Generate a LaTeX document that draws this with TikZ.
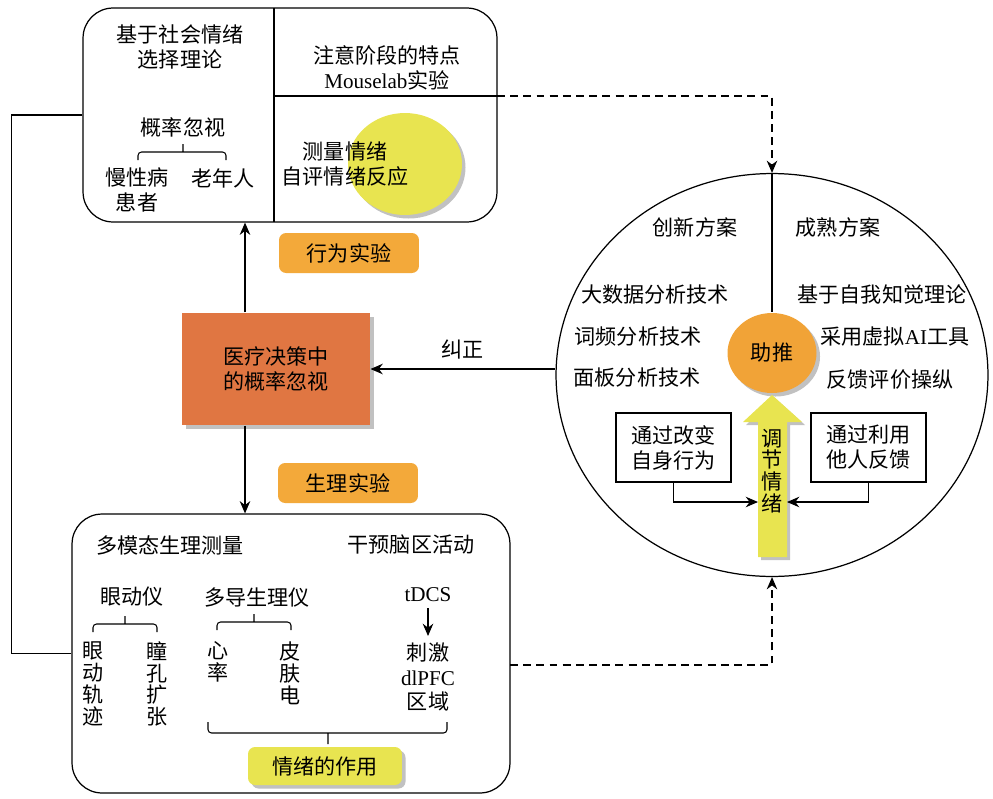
\documentclass[tikz,border=0pt]{standalone}
\usepackage{fontspec}
\setmainfont{Noto Sans CJK SC}
\newfontfamily\latn{Liberation Serif}
\usetikzlibrary{arrows.meta,positioning,shapes.geometric,shadows,calc}
\definecolor{badgeorange}{RGB}{243,169,58}
\definecolor{coreorange}{RGB}{224,118,66}
\definecolor{nudgeorange}{RGB}{241,163,55}
\definecolor{emoyellow}{RGB}{232,228,80}
\tikzset{
  panel/.style={draw,rounded corners=0.6cm,line width=0.7pt},
  expbadge/.style={rounded corners=4pt,fill=#1,minimum width=2.8cm,minimum height=0.8cm},
  expbadge/.default=badgeorange,
  plainbox/.style={draw,align=center,minimum width=2.3cm,minimum height=1.38cm},
  vtext/.style={align=center,font=\fontsize{12}{12.4}\selectfont},
  brk/.style={rounded corners=2pt},
  arr/.style={-{Stealth[length=7pt,width=6pt]}},
  linkdash/.style={dash pattern=on 4.5pt off 3pt},
  softshadow/.style={drop shadow={shadow xshift=2pt,shadow yshift=-2pt,opacity=0.35,fill=black!70}}
}
\newcommand{\brkt}[5]{\draw[brk] (#1,#4+#5) -- (#1,#4) -- (#2,#4) -- (#2,#4+#5) (#3,#4) -- (#3,#4-#5);}

\begin{document}
\begin{tikzpicture}[x=0.02cm,y=-0.02cm,font=\fontsize{12}{14.2}\selectfont,line width=0.6pt]
\useasboundingbox (0,0) rectangle (993,798);

% upper panel: behavioural experiment
\node[panel,minimum width=8.28cm,minimum height=4.28cm] (top) at (290,115) {};
\draw (274,8) -- (274,222) (274,96) -- (497,96);
\node[ellipse,fill=emoyellow,softshadow,minimum width=2.28cm,minimum height=2.04cm] (glow) at (405,164) {};
\node[align=center] (theory) at (180,47) {基于社会情绪\\选择理论};
\node (neglect) at (183,127) {概率忽视};
\node[align=center] (chronic) at (137,190) {慢性病\\患者};
\node (elderly) at (223,178) {老年人};
\brkt{138}{226}{183}{152}{8}
\node[align=center] (attention) at (387,68) {注意阶段的特点\\{\latn Mouselab}实验};
\node[align=center] (selfrate) at (345,164) {测量情绪\\自评情绪反应};

% centre
\node[fill=coreorange,softshadow,minimum width=3.76cm,minimum height=2.24cm,align=center] (core) at (276,369) {医疗决策中\\的概率忽视};
\node[expbadge] (behav) at (349,253) {行为实验};
\node[expbadge] (physio) at (348,483) {生理实验};
\coordinate (axis) at (245,0);

% lower panel: physiological experiment
\node[panel,minimum width=8.76cm,minimum height=5.58cm] (bottom) at (291,653.5) {};
\node (multi) at (170,545) {多模态生理测量};
\node (brain) at (411,545) {干预脑区活动};
\node (eye) at (132,597) {眼动仪};
\node (poly) at (257,597) {多导生理仪};
\node (tdcs) at (428,595) {\latn tDCS};
\node[vtext] (gaze) at (93,684) {眼\\动\\轨\\迹};
\node[vtext] (pupil) at (157,684) {瞳\\孔\\扩\\张};
\node[vtext] (heart) at (218,662) {心\\率};
\node[vtext] (skin) at (290,673) {皮\\肤\\电};
\node[align=center] (stim) at (428,677) {刺激\\{\latn dlPFC}\\区域};
\brkt{93}{157}{125}{624}{8}
\brkt{217}{291}{254}{622}{8}
\brkt{208}{447}{328}{733}{-11}
\node[expbadge=emoyellow,softshadow,minimum width=3.08cm,minimum height=0.76cm] (role) at (325,766) {情绪的作用};
\draw[arr] (tdcs.south) -- (stim.north);

% right circle: nudging
\node[draw,ellipse,line width=0.7pt,minimum width=8.64cm,minimum height=8.06cm] (plan) at (772,375) {};
\node (novel) at (695,227) {创新方案};
\node (mature) at (838,227) {成熟方案};
\node (bigdata) at (655,295) {大数据分析技术};
\node (wordfreq) at (638,337) {词频分析技术};
\node (panelda) at (637,378) {面板分析技术};
\node (selfperc) at (882,295) {基于自我知觉理论};
\node (virtual) at (895,337) {采用虚拟{\latn AI}工具};
\node (feedback) at (890,380) {反馈评价操纵};
\node[ellipse,fill=nudgeorange,softshadow,minimum width=1.78cm,minimum height=1.6cm] (nudge) at (772,353) {助推};
\draw (plan.north) -- (nudge.north);
\fill[black!70,opacity=0.35,shift={(3,3)}] (758,557) -- (758,422) -- (743,422) -- (772,395) -- (802,422) -- (787,422) -- (787,557) -- cycle;
\fill[emoyellow] (758,557) -- (758,422) -- (743,422) -- (772,395) -- (802,422) -- (787,422) -- (787,557) -- cycle;
\node[vtext] (regulate) at (772,471) {调\\节\\情\\绪};
\coordinate (shaftL) at (758,502);
\coordinate (shaftR) at (787,502);
\node[plainbox] (selfbox) at (673.5,447.5) {通过改变\\自身行为};
\node[plainbox] (otherbox) at (868.5,447.5) {通过利用\\他人反馈};
\draw[arr] (selfbox.south) |- (shaftL);
\draw[arr] (otherbox.south) |- (shaftR);

% links
\coordinate (upperlink) at (497,96);
\coordinate (lowerlink) at (510,665);
\draw[arr] (core.north -| axis) -- (top.south -| axis);
\draw[arr] (core.south -| axis) -- (bottom.north -| axis);
\draw[arr] (plan.west |- core.east) -- (core.east) node[midway,above=2pt] {纠正};
\draw (top.west) -- ++(-71,0) |- (bottom.west);
\draw[arr,linkdash] (upperlink) -| (plan.north);
\draw[arr,linkdash] (lowerlink) -| (plan.south);
\end{tikzpicture}
\end{document}
